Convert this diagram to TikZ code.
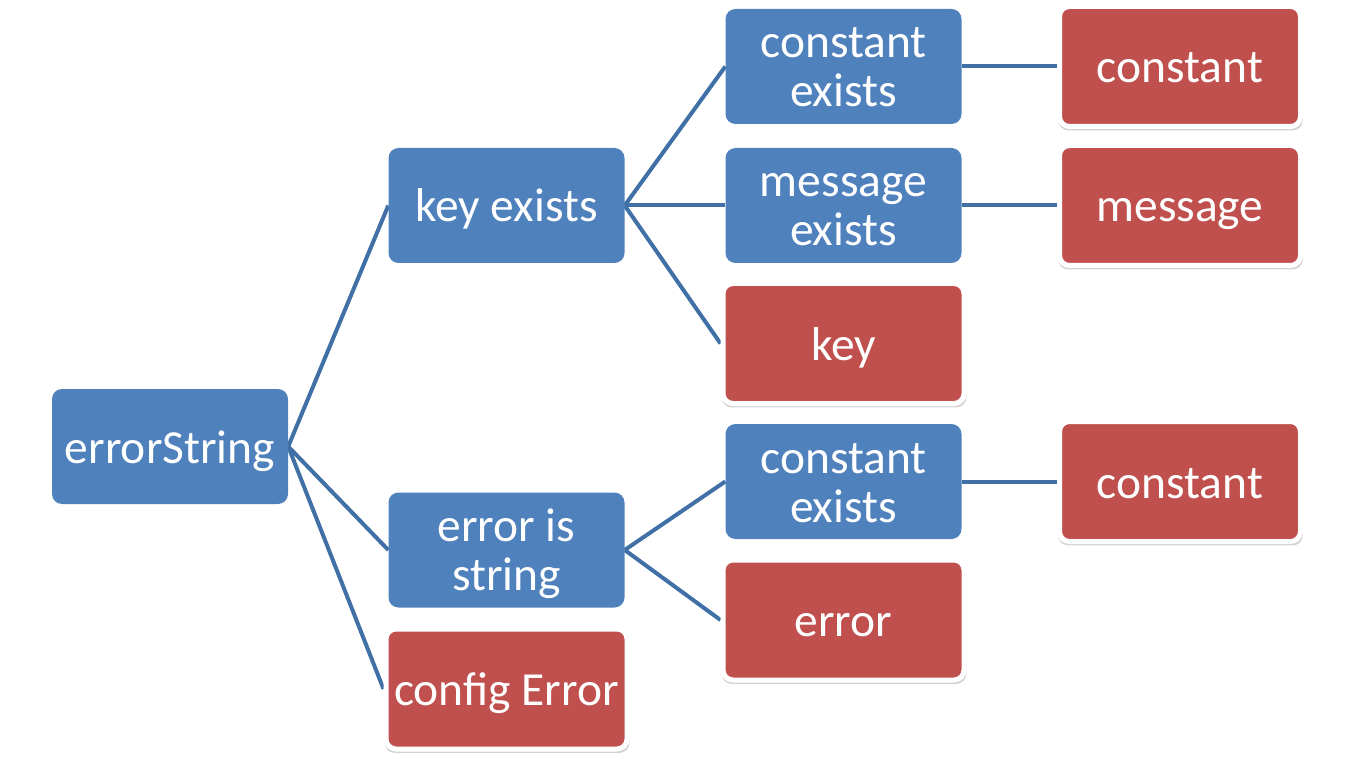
\documentclass[tikz,border=0pt]{standalone}
\usepackage{fontspec}
\setmainfont{Carlito}
\usetikzlibrary{shadows,backgrounds}
\definecolor{boxblue}{RGB}{79,129,189}
\definecolor{boxred}{RGB}{192,80,77}
\definecolor{linkblue}{RGB}{65,112,167}
\tikzset{
  x=1pt,y=-1pt,
  basebox/.style={rectangle,rounded corners=10pt,inner sep=0pt,align=center,text=white,
    font=\fontsize{47.5}{49}\selectfont},
  onel/.style={text height=33pt,text depth=0pt},
  twol/.style={text height=84pt,text depth=3pt},
  bluebox/.style={basebox,fill=boxblue,minimum width=236pt,minimum height=115pt},
  redbox/.style={basebox,fill=boxred,draw=white,line width=5pt,minimum width=241pt,minimum height=120pt,
    drop shadow={opacity=0.35,shadow xshift=0.5pt,shadow yshift=-3pt,shadow scale=1.015}},
  link/.style={draw=linkblue,line width=4pt}
}
\begin{document}
\begin{tikzpicture}
\useasboundingbox (0,0) rectangle (1350,762);
\node[bluebox,onel] (es) at (170,446.5) {errorString};
\node[bluebox,onel] (ke) at (506.5,205.5) {key exists};
\node[bluebox,twol] (eis) at (506.5,550) {error is\\string};
\node[redbox,onel] (ce) at (506.5,689) {config Error};
\node[bluebox,twol] (cex1) at (843.5,66.5) {constant\\exists};
\node[bluebox,twol] (mex) at (843.5,205.5) {message\\exists};
\node[redbox,onel] (key) at (843.5,343.5) {key};
\node[bluebox,twol] (cex2) at (843.5,481.5) {constant\\exists};
\node[redbox,onel] (err) at (843.5,620) {error};
\node[redbox,onel] (c1) at (1180,66.5) {constant};
\node[redbox,onel] (msg) at (1180,205.5) {message};
\node[redbox,onel] (c2) at (1180,481.5) {constant};
\begin{scope}[on background layer]
\draw[link] (es.east) -- (ke.west);
\draw[link] (es.east) -- (eis.west);
\draw[link] (es.east) -- (ce.west);
\draw[link] (ke.east) -- (cex1.west);
\draw[link] (ke.east) -- (mex.west);
\draw[link] (ke.east) -- (key.west);
\draw[link] (eis.east) -- (cex2.west);
\draw[link] (eis.east) -- (err.west);
\draw[link] (cex1.east) -- (c1.west);
\draw[link] (mex.east) -- (msg.west);
\draw[link] (cex2.east) -- (c2.west);
\end{scope}
\end{tikzpicture}
\end{document}
